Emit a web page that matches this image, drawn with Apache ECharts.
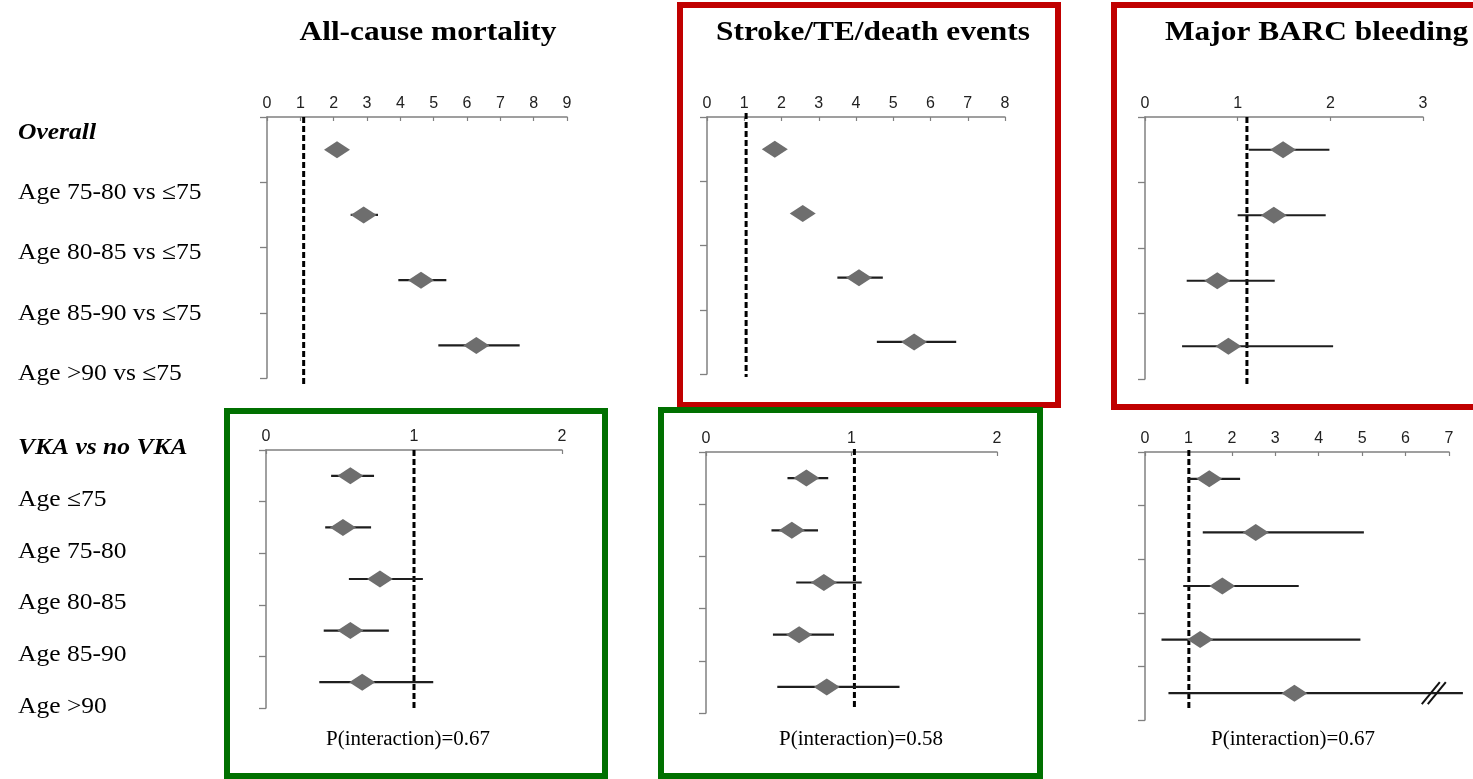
<!DOCTYPE html>
<html>
<head>
<meta charset="utf-8">
<script src="https://cdn.jsdelivr.net/npm/echarts@6/dist/echarts.min.js"></script>
<style>
html,body{margin:0;padding:0;background:#fff;}
#chart{width:1473px;height:779px;}
</style>
</head>
<body>
<div id="chart"></div>
<script>
// ---------------- data ----------------
const panelTitles = ['All-cause mortality', 'Stroke/TE/death events', 'Major BARC bleeding'];
const topRowLabels = ['Overall', 'Age 75-80 vs ≤75', 'Age 80-85 vs ≤75', 'Age 85-90 vs ≤75', 'Age >90 vs ≤75'];
const bottomRowLabels = ['VKA vs no VKA', 'Age ≤75', 'Age 75-80', 'Age 80-85', 'Age 85-90', 'Age >90'];
const topCategories = ['Age 75-80 vs ≤75', 'Age 80-85 vs ≤75', 'Age 85-90 vs ≤75', 'Age >90 vs ≤75'];
const bottomCategories = ['Age ≤75', 'Age 75-80', 'Age 80-85', 'Age 85-90', 'Age >90'];

// Overall (age groups vs ≤75)
const mortalityAgeEst = [2.10, 2.90, 4.62, 6.28];
const mortalityAgeLo  = [1.85, 2.51, 3.94, 5.14];
const mortalityAgeHi  = [2.35, 3.33, 5.38, 7.58];

const strokeAgeEst = [1.82, 2.57, 4.08, 5.56];
const strokeAgeLo  = [1.62, 2.32, 3.50, 4.56];
const strokeAgeHi  = [2.02, 2.82, 4.72, 6.69];

const bleedAgeEst = [1.49, 1.39, 0.78, 0.90];
const bleedAgeLo  = [1.12, 1.00, 0.45, 0.40];
const bleedAgeHi  = [1.99, 1.95, 1.40, 2.03];

// VKA vs no VKA by age
const mortalityVkaEst = [0.57, 0.52, 0.77, 0.57, 0.65];
const mortalityVkaLo  = [0.44, 0.40, 0.56, 0.39, 0.36];
const mortalityVkaHi  = [0.73, 0.71, 1.06, 0.83, 1.13];

const strokeVkaEst = [0.69, 0.59, 0.81, 0.64, 0.83];
const strokeVkaLo  = [0.56, 0.45, 0.62, 0.46, 0.49];
const strokeVkaHi  = [0.84, 0.77, 1.07, 0.88, 1.33];

const bleedVkaEst = [1.48, 2.55, 1.78, 1.27, 3.44];
const bleedVkaLo  = [0.98, 1.33, 0.88, 0.38, 0.54];
const bleedVkaHi  = [2.19, 5.04, 3.54, 4.96, 7.32];

const axisMax = [9, 8, 3, 2, 2, 7];
const refValues = [1.1, 1.05, 1.1, 1.0, 1.02, 1.01];
const pInteraction = ['P(interaction)=0.67', 'P(interaction)=0.58', 'P(interaction)=0.67'];
const axisBreaks = [[6.65, 4]]; // bottom-right panel, row "Age >90"

// ---------------- layout / style ----------------
const panels = [
  {est: mortalityAgeEst, lo: mortalityAgeLo, hi: mortalityAgeHi, cats: topCategories, grid: {left: 267, top: 117, width: 300, height: 261}, refPad: [0, 7]},
  {est: strokeAgeEst, lo: strokeAgeLo, hi: strokeAgeHi, cats: topCategories, grid: {left: 707, top: 117, width: 298, height: 257}, refPad: [-4, 3]},
  {est: bleedAgeEst, lo: bleedAgeLo, hi: bleedAgeHi, cats: topCategories, grid: {left: 1145, top: 117, width: 278, height: 262}, refPad: [0, 6]},
  {est: mortalityVkaEst, lo: mortalityVkaLo, hi: mortalityVkaHi, cats: bottomCategories, grid: {left: 266, top: 450, width: 296, height: 258}, refPad: [0, 0]},
  {est: strokeVkaEst, lo: strokeVkaLo, hi: strokeVkaHi, cats: bottomCategories, grid: {left: 706, top: 452, width: 291, height: 261}, refPad: [-3, -5]},
  {est: bleedVkaEst, lo: bleedVkaLo, hi: bleedVkaHi, cats: bottomCategories, grid: {left: 1145, top: 452, width: 304, height: 268}, refPad: [-2, -12]}
];

const AXIS_COLOR = '#808080';
const SERIF = '"Liberation Serif", "Times New Roman", serif';

function renderCI(params, api) {
  const k = api.value(3);
  const lo = api.coord([api.value(0), k]);
  const hi = api.coord([api.value(1), k]);
  const c = api.coord([api.value(2), k]);
  const hw = 13, hh = 8.5;
  return {
    type: 'group',
    children: [
      {type: 'line', shape: {x1: lo[0], y1: lo[1], x2: hi[0], y2: hi[1]}, style: {stroke: '#1e1e1e', lineWidth: 2.2}},
      {type: 'polygon', shape: {points: [[c[0] - hw, c[1]], [c[0], c[1] - hh], [c[0] + hw, c[1]], [c[0], c[1] + hh]]}, style: {fill: '#6e6e6e'}}
    ]
  };
}

function makeRefRenderer(pad) {
  return function (params, api) {
    const cs = params.coordSys;
    const x = api.coord([api.value(0), 0])[0];
    return {
      type: 'line',
      shape: {x1: x, y1: cs.y + pad[0], x2: x, y2: cs.y + cs.height + pad[1]},
      style: {stroke: '#000', lineWidth: 3, lineDash: [6, 3]}
    };
  };
}

function renderBreak(params, api) {
  const p = api.coord([api.value(0), api.value(1)]);
  const mk = (dx) => ({type: 'line', shape: {x1: p[0] + dx - 9, y1: p[1] + 11, x2: p[0] + dx + 9, y2: p[1] - 11}, style: {stroke: '#111', lineWidth: 2}});
  return {type: 'group', children: [mk(-3), mk(3)]};
}

const grids = [], xAxes = [], yAxes = [], series = [];
panels.forEach((p, i) => {
  grids.push(Object.assign({}, p.grid));
  xAxes.push({
    type: 'value', gridIndex: i, position: 'top', min: 0, max: axisMax[i], interval: 1,
    axisLine: {show: true, lineStyle: {color: AXIS_COLOR, width: 1.5}},
    axisTick: {show: true, inside: true, length: 4, lineStyle: {color: AXIS_COLOR, width: 1.2}},
    splitLine: {show: false},
    axisLabel: {fontSize: 16, color: '#222', margin: 5, fontFamily: '"Liberation Sans", Arial, sans-serif'}
  });
  yAxes.push({
    type: 'category', gridIndex: i, inverse: true, data: p.cats,
    axisLine: {show: true, lineStyle: {color: AXIS_COLOR, width: 1.5}},
    axisTick: {show: true, length: 7, lineStyle: {color: AXIS_COLOR, width: 1.3}},
    axisLabel: {show: false},
    splitLine: {show: false}
  });
  series.push({
    type: 'custom', xAxisIndex: i, yAxisIndex: i, z: 2, clip: false, silent: true,
    renderItem: makeRefRenderer(p.refPad),
    data: [[refValues[i], 0]], encode: {x: 0, y: 1}
  });
  series.push({
    type: 'custom', xAxisIndex: i, yAxisIndex: i, z: 3, clip: false, silent: true,
    renderItem: renderCI,
    data: p.est.map((e, k) => [p.lo[k], p.hi[k], e, k]),
    encode: {x: [0, 1, 2], y: 3}
  });
});
series.push({
  type: 'custom', xAxisIndex: 5, yAxisIndex: 5, z: 4, clip: false, silent: true,
  renderItem: renderBreak, data: axisBreaks, encode: {x: 0, y: 1}
});

// text + frames
const graphics = [];
function txt(text, x, y, size, opts) {
  opts = opts || {};
  graphics.push({
    type: 'text', x: x, y: y, scaleX: opts.scaleX || 1, z: 10,
    style: {
      text: text, fill: '#000',
      fontSize: size, fontFamily: SERIF,
      fontWeight: opts.bold ? 'bold' : 'normal',
      fontStyle: opts.italic ? 'italic' : 'normal',
      textAlign: opts.align || 'left', align: opts.align || 'left',
      textVerticalAlign: 'middle', verticalAlign: 'middle'
    }
  });
}
const titleX = [428, 873, 1165];
const titleAlign = ['center', 'center', 'left'];
panelTitles.forEach((t, i) => txt(t, titleX[i], 33, 28, {bold: true, scaleX: 1.12, align: titleAlign[i]}));

topRowLabels.forEach((t, k) => txt(t, 18, 133 + k * 60.2, 23, {scaleX: 1.11, bold: k === 0, italic: k === 0}));
bottomRowLabels.forEach((t, k) => txt(t, 18, 448 + k * 51.8, 23, {scaleX: 1.11, bold: k === 0, italic: k === 0}));

const pX = [408, 861, 1293];
pInteraction.forEach((t, i) => {
  graphics.push({
    type: 'text', x: pX[i], y: 740, scaleX: 1.05, z: 10,
    style: {text: t, fill: '#000', fontSize: 20, fontFamily: SERIF, textAlign: 'center', align: 'center', textVerticalAlign: 'middle', verticalAlign: 'middle'}
  });
});

const frames = [
  {x: 680, y: 5, w: 378, h: 400, c: '#c00000'},
  {x: 1114, y: 5, w: 420, h: 402, c: '#c00000'},
  {x: 227, y: 411, w: 378, h: 365, c: '#007000'},
  {x: 661, y: 410, w: 379, h: 366, c: '#007000'}
];
frames.forEach(f => graphics.push({
  type: 'rect', z: 1, shape: {x: f.x, y: f.y, width: f.w, height: f.h},
  style: {fill: 'none', stroke: f.c, lineWidth: 6}
}));

const chart = echarts.init(document.getElementById('chart'), null, {renderer: 'canvas'});
chart.setOption({
  animation: false,
  backgroundColor: '#fff',
  grid: grids,
  xAxis: xAxes,
  yAxis: yAxes,
  series: series,
  graphic: graphics
});
</script>
</body>
</html>
